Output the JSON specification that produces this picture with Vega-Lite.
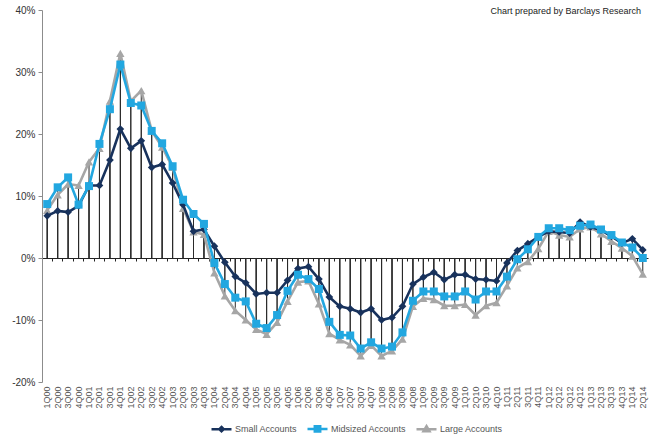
{
  "$schema": "https://vega.github.io/schema/vega-lite/v6.json",
  "width": 606,
  "height": 372,
  "autosize": {"type": "none"},
  "padding": {"left": 42, "top": 10, "right": 7, "bottom": 53},
  "config": {"view": {"stroke": null}, "font": "Liberation Sans"},
  "title": {
    "text": "Chart prepared by Barclays Research",
    "anchor": "end",
    "orient": "top",
    "offset": -11,
    "dx": -7,
    "fontSize": 9,
    "fontWeight": "normal",
    "color": "#222222",
    "font": "Liberation Sans"
  },
  "data": {
    "values": [
      {"quarter": "1Q00", "series": "Small Accounts", "value": 6.8}, {"quarter": "1Q00", "series": "Midsized Accounts", "value": 8.7}, {"quarter": "1Q00", "series": "Large Accounts", "value": 7.7},
      {"quarter": "2Q00", "series": "Small Accounts", "value": 7.6}, {"quarter": "2Q00", "series": "Midsized Accounts", "value": 11.4}, {"quarter": "2Q00", "series": "Large Accounts", "value": 10.2},
      {"quarter": "3Q00", "series": "Small Accounts", "value": 7.4}, {"quarter": "3Q00", "series": "Midsized Accounts", "value": 13.0}, {"quarter": "3Q00", "series": "Large Accounts", "value": 11.9},
      {"quarter": "4Q00", "series": "Small Accounts", "value": 8.4}, {"quarter": "4Q00", "series": "Midsized Accounts", "value": 8.6}, {"quarter": "4Q00", "series": "Large Accounts", "value": 11.7},
      {"quarter": "1Q01", "series": "Small Accounts", "value": 11.7}, {"quarter": "1Q01", "series": "Midsized Accounts", "value": 11.6}, {"quarter": "1Q01", "series": "Large Accounts", "value": 15.5},
      {"quarter": "2Q01", "series": "Small Accounts", "value": 11.7}, {"quarter": "2Q01", "series": "Midsized Accounts", "value": 18.4}, {"quarter": "2Q01", "series": "Large Accounts", "value": 17.7},
      {"quarter": "3Q01", "series": "Small Accounts", "value": 15.8}, {"quarter": "3Q01", "series": "Midsized Accounts", "value": 24.0}, {"quarter": "3Q01", "series": "Large Accounts", "value": 25.3},
      {"quarter": "4Q01", "series": "Small Accounts", "value": 20.8}, {"quarter": "4Q01", "series": "Midsized Accounts", "value": 31.2}, {"quarter": "4Q01", "series": "Large Accounts", "value": 33.0},
      {"quarter": "1Q02", "series": "Small Accounts", "value": 17.7}, {"quarter": "1Q02", "series": "Midsized Accounts", "value": 25.0}, {"quarter": "1Q02", "series": "Large Accounts", "value": 25.3},
      {"quarter": "2Q02", "series": "Small Accounts", "value": 18.9}, {"quarter": "2Q02", "series": "Midsized Accounts", "value": 24.6}, {"quarter": "2Q02", "series": "Large Accounts", "value": 27.0},
      {"quarter": "3Q02", "series": "Small Accounts", "value": 14.6}, {"quarter": "3Q02", "series": "Midsized Accounts", "value": 20.5}, {"quarter": "3Q02", "series": "Large Accounts", "value": 20.5},
      {"quarter": "4Q02", "series": "Small Accounts", "value": 15.1}, {"quarter": "4Q02", "series": "Midsized Accounts", "value": 18.5}, {"quarter": "4Q02", "series": "Large Accounts", "value": 17.9},
      {"quarter": "1Q03", "series": "Small Accounts", "value": 12.1}, {"quarter": "1Q03", "series": "Midsized Accounts", "value": 14.8}, {"quarter": "1Q03", "series": "Large Accounts", "value": 14.6},
      {"quarter": "2Q03", "series": "Small Accounts", "value": 8.6}, {"quarter": "2Q03", "series": "Midsized Accounts", "value": 9.4}, {"quarter": "2Q03", "series": "Large Accounts", "value": 8.0},
      {"quarter": "3Q03", "series": "Small Accounts", "value": 4.3}, {"quarter": "3Q03", "series": "Midsized Accounts", "value": 7.1}, {"quarter": "3Q03", "series": "Large Accounts", "value": 4.2},
      {"quarter": "4Q03", "series": "Small Accounts", "value": 4.6}, {"quarter": "4Q03", "series": "Midsized Accounts", "value": 5.5}, {"quarter": "4Q03", "series": "Large Accounts", "value": 3.8},
      {"quarter": "1Q04", "series": "Small Accounts", "value": 1.9}, {"quarter": "1Q04", "series": "Midsized Accounts", "value": -0.8}, {"quarter": "1Q04", "series": "Large Accounts", "value": -2.4},
      {"quarter": "2Q04", "series": "Small Accounts", "value": -0.7}, {"quarter": "2Q04", "series": "Midsized Accounts", "value": -4.2}, {"quarter": "2Q04", "series": "Large Accounts", "value": -6.1},
      {"quarter": "3Q04", "series": "Small Accounts", "value": -3.0}, {"quarter": "3Q04", "series": "Midsized Accounts", "value": -6.4}, {"quarter": "3Q04", "series": "Large Accounts", "value": -8.5},
      {"quarter": "4Q04", "series": "Small Accounts", "value": -4.0}, {"quarter": "4Q04", "series": "Midsized Accounts", "value": -7.0}, {"quarter": "4Q04", "series": "Large Accounts", "value": -10.0},
      {"quarter": "1Q05", "series": "Small Accounts", "value": -5.8}, {"quarter": "1Q05", "series": "Midsized Accounts", "value": -10.6}, {"quarter": "1Q05", "series": "Large Accounts", "value": -11.5},
      {"quarter": "2Q05", "series": "Small Accounts", "value": -5.6}, {"quarter": "2Q05", "series": "Midsized Accounts", "value": -11.3}, {"quarter": "2Q05", "series": "Large Accounts", "value": -12.3},
      {"quarter": "3Q05", "series": "Small Accounts", "value": -5.6}, {"quarter": "3Q05", "series": "Midsized Accounts", "value": -9.2}, {"quarter": "3Q05", "series": "Large Accounts", "value": -10.4},
      {"quarter": "4Q05", "series": "Small Accounts", "value": -3.6}, {"quarter": "4Q05", "series": "Midsized Accounts", "value": -5.3}, {"quarter": "4Q05", "series": "Large Accounts", "value": -7.0},
      {"quarter": "1Q06", "series": "Small Accounts", "value": -1.7}, {"quarter": "1Q06", "series": "Midsized Accounts", "value": -2.7}, {"quarter": "1Q06", "series": "Large Accounts", "value": -3.9},
      {"quarter": "2Q06", "series": "Small Accounts", "value": -1.4}, {"quarter": "2Q06", "series": "Midsized Accounts", "value": -3.4}, {"quarter": "2Q06", "series": "Large Accounts", "value": -3.7},
      {"quarter": "3Q06", "series": "Small Accounts", "value": -3.4}, {"quarter": "3Q06", "series": "Midsized Accounts", "value": -5.0}, {"quarter": "3Q06", "series": "Large Accounts", "value": -7.4},
      {"quarter": "4Q06", "series": "Small Accounts", "value": -6.3}, {"quarter": "4Q06", "series": "Midsized Accounts", "value": -10.3}, {"quarter": "4Q06", "series": "Large Accounts", "value": -12.2},
      {"quarter": "1Q07", "series": "Small Accounts", "value": -7.8}, {"quarter": "1Q07", "series": "Midsized Accounts", "value": -12.4}, {"quarter": "1Q07", "series": "Large Accounts", "value": -13.2},
      {"quarter": "2Q07", "series": "Small Accounts", "value": -8.2}, {"quarter": "2Q07", "series": "Midsized Accounts", "value": -12.5}, {"quarter": "2Q07", "series": "Large Accounts", "value": -14.0},
      {"quarter": "3Q07", "series": "Small Accounts", "value": -8.8}, {"quarter": "3Q07", "series": "Midsized Accounts", "value": -14.6}, {"quarter": "3Q07", "series": "Large Accounts", "value": -15.8},
      {"quarter": "4Q07", "series": "Small Accounts", "value": -8.2}, {"quarter": "4Q07", "series": "Midsized Accounts", "value": -13.6}, {"quarter": "4Q07", "series": "Large Accounts", "value": -14.1},
      {"quarter": "1Q08", "series": "Small Accounts", "value": -10.0}, {"quarter": "1Q08", "series": "Midsized Accounts", "value": -14.6}, {"quarter": "1Q08", "series": "Large Accounts", "value": -15.8},
      {"quarter": "2Q08", "series": "Small Accounts", "value": -9.6}, {"quarter": "2Q08", "series": "Midsized Accounts", "value": -14.3}, {"quarter": "2Q08", "series": "Large Accounts", "value": -15.0},
      {"quarter": "3Q08", "series": "Small Accounts", "value": -7.8}, {"quarter": "3Q08", "series": "Midsized Accounts", "value": -12.0}, {"quarter": "3Q08", "series": "Large Accounts", "value": -13.1},
      {"quarter": "4Q08", "series": "Small Accounts", "value": -4.2}, {"quarter": "4Q08", "series": "Midsized Accounts", "value": -6.9}, {"quarter": "4Q08", "series": "Large Accounts", "value": -7.8},
      {"quarter": "1Q09", "series": "Small Accounts", "value": -3.1}, {"quarter": "1Q09", "series": "Midsized Accounts", "value": -5.4}, {"quarter": "1Q09", "series": "Large Accounts", "value": -6.5},
      {"quarter": "2Q09", "series": "Small Accounts", "value": -2.3}, {"quarter": "2Q09", "series": "Midsized Accounts", "value": -5.4}, {"quarter": "2Q09", "series": "Large Accounts", "value": -6.7},
      {"quarter": "3Q09", "series": "Small Accounts", "value": -3.5}, {"quarter": "3Q09", "series": "Midsized Accounts", "value": -6.2}, {"quarter": "3Q09", "series": "Large Accounts", "value": -7.7},
      {"quarter": "4Q09", "series": "Small Accounts", "value": -2.7}, {"quarter": "4Q09", "series": "Midsized Accounts", "value": -6.2}, {"quarter": "4Q09", "series": "Large Accounts", "value": -7.7},
      {"quarter": "1Q10", "series": "Small Accounts", "value": -2.7}, {"quarter": "1Q10", "series": "Midsized Accounts", "value": -5.4}, {"quarter": "1Q10", "series": "Large Accounts", "value": -7.5},
      {"quarter": "2Q10", "series": "Small Accounts", "value": -3.4}, {"quarter": "2Q10", "series": "Midsized Accounts", "value": -6.7}, {"quarter": "2Q10", "series": "Large Accounts", "value": -9.2},
      {"quarter": "3Q10", "series": "Small Accounts", "value": -3.5}, {"quarter": "3Q10", "series": "Midsized Accounts", "value": -5.4}, {"quarter": "3Q10", "series": "Large Accounts", "value": -7.7},
      {"quarter": "4Q10", "series": "Small Accounts", "value": -3.7}, {"quarter": "4Q10", "series": "Midsized Accounts", "value": -5.4}, {"quarter": "4Q10", "series": "Large Accounts", "value": -7.2},
      {"quarter": "1Q11", "series": "Small Accounts", "value": -0.8}, {"quarter": "1Q11", "series": "Midsized Accounts", "value": -3.0}, {"quarter": "1Q11", "series": "Large Accounts", "value": -4.5},
      {"quarter": "2Q11", "series": "Small Accounts", "value": 1.2}, {"quarter": "2Q11", "series": "Midsized Accounts", "value": -0.2}, {"quarter": "2Q11", "series": "Large Accounts", "value": -1.6},
      {"quarter": "3Q11", "series": "Small Accounts", "value": 2.3}, {"quarter": "3Q11", "series": "Midsized Accounts", "value": 1.4}, {"quarter": "3Q11", "series": "Large Accounts", "value": -0.6},
      {"quarter": "4Q11", "series": "Small Accounts", "value": 3.4}, {"quarter": "4Q11", "series": "Midsized Accounts", "value": 3.4}, {"quarter": "4Q11", "series": "Large Accounts", "value": 1.5},
      {"quarter": "1Q12", "series": "Small Accounts", "value": 4.3}, {"quarter": "1Q12", "series": "Midsized Accounts", "value": 4.8}, {"quarter": "1Q12", "series": "Large Accounts", "value": 4.3},
      {"quarter": "2Q12", "series": "Small Accounts", "value": 4.2}, {"quarter": "2Q12", "series": "Midsized Accounts", "value": 4.8}, {"quarter": "2Q12", "series": "Large Accounts", "value": 3.7},
      {"quarter": "3Q12", "series": "Small Accounts", "value": 4.0}, {"quarter": "3Q12", "series": "Midsized Accounts", "value": 4.5}, {"quarter": "3Q12", "series": "Large Accounts", "value": 3.4},
      {"quarter": "4Q12", "series": "Small Accounts", "value": 5.8}, {"quarter": "4Q12", "series": "Midsized Accounts", "value": 5.2}, {"quarter": "4Q12", "series": "Large Accounts", "value": 4.7},
      {"quarter": "1Q13", "series": "Small Accounts", "value": 5.0}, {"quarter": "1Q13", "series": "Midsized Accounts", "value": 5.4}, {"quarter": "1Q13", "series": "Large Accounts", "value": 5.0},
      {"quarter": "2Q13", "series": "Small Accounts", "value": 4.5}, {"quarter": "2Q13", "series": "Midsized Accounts", "value": 4.6}, {"quarter": "2Q13", "series": "Large Accounts", "value": 3.9},
      {"quarter": "3Q13", "series": "Small Accounts", "value": 3.5}, {"quarter": "3Q13", "series": "Midsized Accounts", "value": 3.7}, {"quarter": "3Q13", "series": "Large Accounts", "value": 2.7},
      {"quarter": "4Q13", "series": "Small Accounts", "value": 2.4}, {"quarter": "4Q13", "series": "Midsized Accounts", "value": 2.5}, {"quarter": "4Q13", "series": "Large Accounts", "value": 1.6},
      {"quarter": "1Q14", "series": "Small Accounts", "value": 3.1}, {"quarter": "1Q14", "series": "Midsized Accounts", "value": 1.7}, {"quarter": "1Q14", "series": "Large Accounts", "value": 0.3},
      {"quarter": "2Q14", "series": "Small Accounts", "value": 1.3}, {"quarter": "2Q14", "series": "Midsized Accounts", "value": 0.0}, {"quarter": "2Q14", "series": "Large Accounts", "value": -2.6}
    ]
  },
  "resolve": {"axis": {"x": "independent"}},
  "layer": [
    {
      "mark": {"type": "rule", "color": "#2a2a2a", "strokeWidth": 1},
      "encoding": {
        "x": {
          "field": "quarter", "type": "ordinal", "sort": null,
          "scale": {"type": "band", "paddingInner": 0, "paddingOuter": 0},
          "axis": {
            "orient": "bottom", "title": null, "domain": false, "ticks": false, "labelAngle": -90,
            "labelFontSize": 9, "labelColor": "#555555", "labelPadding": 4
          }
        },
        "y": {
          "field": "value", "type": "quantitative", "title": null,
          "scale": {"domain": [-20, 40], "nice": false, "zero": false},
          "axis": {
            "values": [-20, -10, 0, 10, 20, 30, 40],
            "labelExpr": "datum.value + '%'",
            "grid": false, "domainColor": "#8c8c8c", "tickColor": "#8c8c8c",
            "tickSize": 4, "labelFontSize": 10, "labelColor": "#333333", "labelPadding": 3
          }
        },
        "y2": {"datum": 0}
      }
    },
    {
      "transform": [{"filter": "datum.series === 'Large Accounts'"}],
      "mark": {"type": "line", "color": "#a6a6a6", "strokeWidth": 2.6},
      "encoding": {
        "x": {
          "field": "quarter", "type": "ordinal", "sort": null,
          "axis": {
            "orient": "bottom", "title": null, "labels": false, "offset": -124, "domainColor": "#222222",
            "domainWidth": 1, "tickColor": "#222222", "tickSize": 3, "bandPosition": 0
          }
        },
        "y": {"field": "value", "type": "quantitative", "title": null}
      }
    },
    {
      "transform": [{"filter": "datum.series === 'Large Accounts'"}],
      "mark": {"type": "point", "shape": "triangle-up", "filled": true, "opacity": 1, "color": "#a6a6a6", "size": 70},
      "encoding": {
        "x": {"field": "quarter", "type": "ordinal", "sort": null, "axis": null},
        "y": {"field": "value", "type": "quantitative", "title": null}
      }
    },
    {
      "transform": [{"filter": "datum.series === 'Small Accounts'"}],
      "mark": {"type": "line", "color": "#18325c", "strokeWidth": 2.6},
      "encoding": {
        "x": {"field": "quarter", "type": "ordinal", "sort": null, "axis": null},
        "y": {"field": "value", "type": "quantitative", "title": null}
      }
    },
    {
      "transform": [{"filter": "datum.series === 'Small Accounts'"}],
      "mark": {"type": "point", "shape": "diamond", "filled": true, "opacity": 1, "color": "#18325c", "size": 60},
      "encoding": {
        "x": {"field": "quarter", "type": "ordinal", "sort": null, "axis": null},
        "y": {"field": "value", "type": "quantitative", "title": null}
      }
    },
    {
      "transform": [{"filter": "datum.series === 'Midsized Accounts'"}],
      "mark": {"type": "line", "color": "#22a7e0", "strokeWidth": 2.6},
      "encoding": {
        "x": {"field": "quarter", "type": "ordinal", "sort": null, "axis": null},
        "y": {"field": "value", "type": "quantitative", "title": null}
      }
    },
    {
      "transform": [{"filter": "datum.series === 'Midsized Accounts'"}],
      "mark": {"type": "point", "shape": "square", "filled": true, "opacity": 1, "color": "#22a7e0", "size": 64},
      "encoding": {
        "x": {"field": "quarter", "type": "ordinal", "sort": null, "axis": null},
        "y": {"field": "value", "type": "quantitative", "title": null}
      }
    },
    {
      "transform": [{"filter": "false"}],
      "mark": {"type": "point", "filled": false, "opacity": 1, "strokeWidth": 2.5},
      "encoding": {
        "x": {"field": "quarter", "type": "ordinal", "sort": null, "axis": null},
        "y": {"field": "value", "type": "quantitative", "title": null},
        "color": {
          "field": "series", "type": "nominal",
          "scale": {
            "domain": ["Small Accounts", "Midsized Accounts", "Large Accounts"],
            "range": ["#18325c", "#22a7e0", "#a6a6a6"]
          },
          "legend": {
            "orient": "none", "legendX": 168, "legendY": 407, "direction": "horizontal",
            "title": null, "symbolSize": 400, "symbolStrokeWidth": 2.5,
            "labelFontSize": 9, "labelColor": "#555555", "labelOffset": 2,
            "columnPadding": 4, "padding": 0
          }
        },
        "shape": {
          "field": "series", "type": "nominal",
          "scale": {
            "domain": ["Small Accounts", "Midsized Accounts", "Large Accounts"],
            "range": [
              "M-1,0H1M0,-0.22L0.22,0L0,0.22L-0.22,0ZM0,-0.08L0.08,0L0,0.08L-0.08,0Z",
              "M-1,0H1M-0.27,-0.27H0.27V0.27H-0.27ZM-0.12,-0.12H0.12V0.12H-0.12Z",
              "M-1,0H1M0,-0.3L0.3,0.22L-0.3,0.22ZM0,-0.08L0.1,0.1L-0.1,0.1Z"
            ]
          },
          "legend": {
            "orient": "none", "legendX": 168, "legendY": 407, "direction": "horizontal",
            "title": null, "symbolSize": 400, "symbolStrokeWidth": 2.5,
            "labelFontSize": 9, "labelColor": "#555555", "labelOffset": 2,
            "columnPadding": 4, "padding": 0
          }
        }
      }
    }
  ]
}
